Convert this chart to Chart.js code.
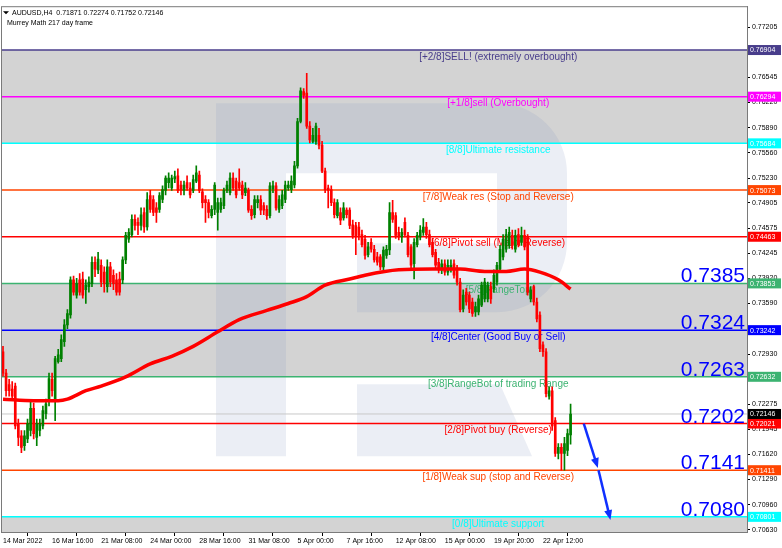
<!DOCTYPE html>
<html>
<head>
<meta charset="utf-8">
<script src="https://cdn.jsdelivr.net/npm/chart.js@4.4.0/dist/chart.umd.min.js"></script>
<style>
  html, body { margin: 0; padding: 0; background: #fff; }
</style>
</head>
<body>
<canvas id="grafico" width="782" height="548"></canvas>
<script>
// AUDUSD H4 - uma vela por barra (indice 0 = 14 Mar 2022 00:00)
const opens = [
  0.7296,0.7268,0.7253,0.7247,0.7251,0.7202,0.7186,0.7173,0.7182,0.7193,
  0.7222,0.7184,0.7193,0.7199,0.7215,0.7232,0.7260,0.7234,0.7283,0.7287,
  0.7309,0.7331,0.7344,0.7390,0.7370,0.7390,0.7391,0.7377,0.7381,0.7385,
  0.7413,0.7403,0.7409,0.7400,0.7381,0.7407,0.7396,0.7390,0.7391,0.7390,
  0.7416,0.7443,0.7449,0.7469,0.7465,0.7461,0.7478,0.7459,0.7500,0.7495,
  0.7484,0.7482,0.7495,0.7507,0.7517,0.7510,0.7522,0.7526,0.7514,0.7507,
  0.7517,0.7510,0.7507,0.7519,0.7527,0.7505,0.7495,0.7491,0.7474,0.7482,
  0.7478,0.7482,0.7487,0.7507,0.7504,0.7523,0.7519,0.7517,0.7514,0.7504,
  0.7507,0.7482,0.7475,0.7491,0.7495,0.7487,0.7482,0.7474,0.7509,0.7513,
  0.7482,0.7487,0.7495,0.7510,0.7508,0.7514,0.7539,0.7597,0.7636,0.7634,
  0.7591,0.7571,0.7571,0.7579,0.7566,0.7532,0.7510,0.7508,0.7491,0.7474,
  0.7478,0.7471,0.7481,0.7481,0.7462,0.7461,0.7459,0.7449,0.7443,0.7423,
  0.7439,0.7430,0.7420,0.7420,0.7407,0.7422,0.7429,0.7478,0.7474,0.7452,
  0.7446,0.7465,0.7448,0.7433,0.7411,0.7436,0.7446,0.7452,0.7459,0.7449,
  0.7439,0.7426,0.7413,0.7403,0.7411,0.7400,0.7405,0.7411,0.7404,0.7387,
  0.7352,0.7374,0.7370,0.7361,0.7348,0.7348,0.7357,0.7365,0.7365,0.7381,
  0.7378,0.7387,0.7404,0.7420,0.7430,0.7435,0.7448,0.7430,0.7449,0.7439,
  0.7448,0.7446,0.7365,0.7381,0.7361,0.7344,0.7305,0.7296,0.7238,0.7245,
  0.7206,0.7163,0.7171,0.7163,0.7167,0.71871
];
const highs = [
  0.7303,0.7273,0.7260,0.7257,0.7255,0.7208,0.7193,0.7193,0.7208,0.7232,
  0.7229,0.7208,0.7208,0.7225,0.7234,0.7268,0.7268,0.7290,0.7299,0.7318,
  0.7338,0.7351,0.7394,0.7395,0.7392,0.7398,0.7400,0.7390,0.7394,0.7420,
  0.7420,0.7426,0.7416,0.7407,0.7416,0.7413,0.7403,0.7398,0.7400,0.7420,
  0.7452,0.7457,0.7475,0.7475,0.7471,0.7484,0.7484,0.7504,0.7507,0.7500,
  0.7491,0.7504,0.7513,0.7526,0.7530,0.7527,0.7532,0.7535,0.7519,0.7519,
  0.7526,0.7517,0.7527,0.7539,0.7532,0.7509,0.7500,0.7495,0.7487,0.7517,
  0.7497,0.7497,0.7510,0.7519,0.7530,0.7530,0.7523,0.7535,0.7519,0.7517,
  0.7510,0.7487,0.7500,0.7500,0.7500,0.7491,0.7487,0.7517,0.7519,0.7517,
  0.7500,0.7507,0.7519,0.7519,0.7526,0.7545,0.7601,0.7641,0.7640,0.7660,
  0.7597,0.7588,0.7595,0.7588,0.7571,0.7536,0.7514,0.7513,0.7496,0.7495,
  0.7484,0.7491,0.7484,0.7484,0.7468,0.7465,0.7465,0.7455,0.7448,0.7439,
  0.7444,0.7435,0.7426,0.7423,0.7433,0.7435,0.7491,0.7494,0.7478,0.7459,
  0.7457,0.7471,0.7452,0.7436,0.7444,0.7452,0.7461,0.7470,0.7465,0.7455,
  0.7444,0.7430,0.7418,0.7416,0.7416,0.7416,0.7416,0.7416,0.7409,0.7392,
  0.7377,0.7379,0.7374,0.7366,0.7361,0.7370,0.7387,0.7392,0.7387,0.7387,
  0.7403,0.7413,0.7435,0.7449,0.7456,0.7459,0.7455,0.7455,0.7457,0.7459,
  0.7455,0.7449,0.7381,0.7383,0.7366,0.7348,0.7309,0.7300,0.7250,0.7250,
  0.7210,0.7176,0.7176,0.7184,0.7195,0.72274
];
const lows = [
  0.7264,0.7238,0.7238,0.7232,0.7195,0.7173,0.7164,0.7167,0.7177,0.7186,
  0.7182,0.7173,0.7186,0.7195,0.7208,0.7225,0.7238,0.7206,0.7281,0.7283,
  0.7303,0.7326,0.7340,0.7370,0.7366,0.7370,0.7366,0.7359,0.7374,0.7381,
  0.7394,0.7398,0.7381,0.7374,0.7374,0.7381,0.7377,0.7370,0.7370,0.7385,
  0.7411,0.7439,0.7446,0.7455,0.7449,0.7455,0.7452,0.7455,0.7478,0.7474,
  0.7465,0.7478,0.7491,0.7501,0.7510,0.7507,0.7517,0.7504,0.7501,0.7501,
  0.7507,0.7497,0.7504,0.7517,0.7504,0.7484,0.7465,0.7471,0.7471,0.7475,
  0.7455,0.7478,0.7483,0.7504,0.7501,0.7507,0.7497,0.7507,0.7496,0.7500,
  0.7478,0.7469,0.7471,0.7484,0.7475,0.7475,0.7469,0.7471,0.7504,0.7481,
  0.7478,0.7483,0.7491,0.7507,0.7504,0.7510,0.7536,0.7595,0.7627,0.7588,
  0.7569,0.7569,0.7567,0.7561,0.7530,0.7504,0.7484,0.7487,0.7471,0.7471,
  0.7462,0.7468,0.7471,0.7457,0.7444,0.7423,0.7442,0.7433,0.7417,0.7420,
  0.7426,0.7413,0.7409,0.7403,0.7403,0.7418,0.7423,0.7465,0.7444,0.7442,
  0.7439,0.7446,0.7420,0.7404,0.7391,0.7433,0.7442,0.7448,0.7444,0.7433,
  0.7420,0.7405,0.7399,0.7398,0.7396,0.7396,0.7400,0.7392,0.7383,0.7348,
  0.7348,0.7357,0.7347,0.7342,0.7342,0.7344,0.7355,0.7361,0.7361,0.7359,
  0.7374,0.7383,0.7400,0.7416,0.7426,0.7431,0.7430,0.7426,0.7433,0.7435,
  0.7429,0.7370,0.7361,0.7357,0.7335,0.7296,0.7290,0.7237,0.7234,0.7193,
  0.7159,0.7156,0.7141,0.7141,0.7160,0.71752
];
const closes = [
  0.7268,0.7245,0.7245,0.7238,0.7199,0.7184,0.7171,0.7186,0.7202,0.7222,
  0.7189,0.7202,0.7202,0.7219,0.7228,0.7261,0.7245,0.7287,0.7292,0.7312,
  0.7331,0.7346,0.7390,0.7374,0.7385,0.7374,0.7370,0.7383,0.7387,0.7413,
  0.7404,0.7417,0.7387,0.7385,0.7407,0.7387,0.7385,0.7374,0.7374,0.7416,
  0.7448,0.7452,0.7469,0.7461,0.7461,0.7475,0.7459,0.7495,0.7482,0.7478,
  0.7478,0.7500,0.7508,0.7523,0.7523,0.7523,0.7525,0.7507,0.7507,0.7514,
  0.7510,0.7501,0.7521,0.7530,0.7507,0.7491,0.7491,0.7478,0.7482,0.7514,
  0.7491,0.7491,0.7507,0.7514,0.7523,0.7510,0.7501,0.7510,0.7501,0.7510,
  0.7481,0.7474,0.7495,0.7495,0.7481,0.7481,0.7474,0.7513,0.7513,0.7484,
  0.7495,0.7501,0.7514,0.7514,0.7519,0.7539,0.7597,0.7637,0.7631,0.7591,
  0.7573,0.7579,0.7591,0.7566,0.7532,0.7508,0.7507,0.7491,0.7475,0.7491,
  0.7468,0.7484,0.7475,0.7461,0.7448,0.7446,0.7448,0.7436,0.7422,0.7433,
  0.7430,0.7416,0.7413,0.7407,0.7429,0.7430,0.7478,0.7469,0.7448,0.7446,
  0.7452,0.7449,0.7423,0.7409,0.7439,0.7448,0.7455,0.7459,0.7449,0.7436,
  0.7423,0.7409,0.7403,0.7411,0.7400,0.7409,0.7409,0.7396,0.7387,0.7351,
  0.7370,0.7361,0.7352,0.7346,0.7355,0.7365,0.7383,0.7387,0.7383,0.7365,
  0.7396,0.7409,0.7430,0.7443,0.7449,0.7452,0.7435,0.7448,0.7436,0.7448,
  0.7433,0.7374,0.7377,0.7361,0.7339,0.7300,0.7296,0.7241,0.7245,0.7199,
  0.7163,0.7171,0.7163,0.7176,0.7189,0.72146
];

// media movel (vermelha grossa), lida em algumas barras
const maBars = [0, 10, 18, 21, 27, 32, 40, 48, 55, 62, 70, 77, 86, 93, 99, 105, 113, 118, 129, 140, 149, 157, 164, 170, 175, 181, 185];
const maValues = [0.7234, 0.7232, 0.7232, 0.7234, 0.7245, 0.7251, 0.7263, 0.7280, 0.7290, 0.7303, 0.7322, 0.7338, 0.7350, 0.7359, 0.7368, 0.7383, 0.7391, 0.7396, 0.7403, 0.7404, 0.7404, 0.7401, 0.7401, 0.7404, 0.7400, 0.7390, 0.7378];

// niveis de Murrey Math
const levelPrices = [0.76904, 0.76294, 0.75684, 0.75073, 0.74463, 0.73853, 0.73242, 0.72632, 0.72021, 0.71411, 0.70801];
const levelNames = ['[+2/8]SELL! (extremely overbought)', '[+1/8]sell (Overbought)', '[8/8]Ultimate resistance',
  '[7/8]Weak res (Stop and Reverse)', '[6/8]Pivot sell (Major Reverse)', '[5/8]RangeTop', '[4/8]Center (Good Buy or Sell)',
  '[3/8]RangeBot of trading Range', '[2/8]Pivot buy (Reverse)', '[1/8]Weak sup (stop and Reverse)', '[0/8]Ultimate support'];
const levelColors = ['#483d8b', '#ff00ff', '#00ffff', '#ff4500', '#ff0000', '#3cb371', '#0000ff', '#3cb371', '#ff0000', '#ff4500', '#00ffff'];
const targetLabels = ['0.7385', '0.7324', '0.7263', '0.7202', '0.7141', '0.7080'];
const currentPrice = 0.72146;

// setas de projecao
const arrowBars = [[189.3, 193.5], [194.1, 197.7]];
const arrowPrices = [[0.7202, 0.7149], [0.7141, 0.7081]];

// eixos
const xTickBars = [0, 16, 32, 48, 64, 80, 96, 112, 128, 144, 160, 176];
const xTickLabels = ['14 Mar 2022', '16 Mar 16:00', '21 Mar 08:00', '24 Mar 00:00', '28 Mar 16:00', '31 Mar 08:00',
  '5 Apr 00:00', '7 Apr 16:00', '12 Apr 08:00', '15 Apr 00:00', '19 Apr 20:00', '22 Apr 12:00'];
const yTicks = [0.77205, 0.76875, 0.76545, 0.76220, 0.75890, 0.75560, 0.75230, 0.74905, 0.74575, 0.74245, 0.73920,
  0.73590, 0.73260, 0.72930, 0.72605, 0.72275, 0.71945, 0.71620, 0.71290, 0.70960, 0.70630];

const fonte = 'Liberation Sans, Arial, sans-serif';
const corVela = closes.map((c, i) => c >= opens[i] ? '#008000' : '#ff0000');

const fundoMurrey = {
    id: 'fundoMurrey',
    beforeDatasetsDraw(chart) {
        const { ctx, chartArea: a, scales: { y } } = chart;
        const w = a.right - a.left;
        ctx.save();
        ctx.beginPath();
        ctx.rect(a.left, a.top, w, a.bottom - a.top);
        ctx.clip();

        // faixas cinzas
        ctx.fillStyle = '#d3d3d3';
        const faixa = (p1, p2) => {
            const y1 = y.getPixelForValue(p1), y2 = y.getPixelForValue(p2);
            ctx.fillRect(a.left, y1, w, y2 - y1);
        };
        faixa(levelPrices[0], levelPrices[2]);
        faixa(levelPrices[5], levelPrices[7]);
        faixa(levelPrices[10], y.min);

        // marca d'agua "R"
        const ox = a.left - 1, oy = a.top - 2;
        ctx.fillStyle = 'rgba(130,150,190,0.16)';
        ctx.beginPath();
        ctx.moveTo(ox + 216, oy + 99);
        ctx.lineTo(ox + 497, oy + 99);
        ctx.arcTo(ox + 567, oy + 99, ox + 567, oy + 169, 70);
        ctx.lineTo(ox + 567, oy + 238);
        ctx.arcTo(ox + 567, oy + 308, ox + 497, oy + 308, 70);
        ctx.lineTo(ox + 357, oy + 308);
        ctx.lineTo(ox + 357, oy + 239);
        ctx.lineTo(ox + 497, oy + 239);
        ctx.lineTo(ox + 497, oy + 169);
        ctx.lineTo(ox + 286, oy + 169);
        ctx.lineTo(ox + 286, oy + 452);
        ctx.lineTo(ox + 216, oy + 452);
        ctx.closePath();
        ctx.fill();
        ctx.beginPath();
        ctx.moveTo(ox + 357, oy + 380);
        ctx.lineTo(ox + 500, oy + 380);
        ctx.lineTo(ox + 532, oy + 452);
        ctx.lineTo(ox + 357, oy + 452);
        ctx.closePath();
        ctx.fill();

        // preco atual
        const yc = y.getPixelForValue(currentPrice);
        ctx.strokeStyle = '#c8c8c8';
        ctx.lineWidth = 1;
        ctx.beginPath();
        ctx.moveTo(a.left, yc);
        ctx.lineTo(a.right, yc);
        ctx.stroke();

        // linhas e textos dos niveis
        ctx.font = '10px ' + fonte;
        ctx.textAlign = 'center';
        ctx.textBaseline = 'middle';
        levelPrices.forEach((p, i) => {
            const yy = y.getPixelForValue(p);
            ctx.strokeStyle = levelColors[i];
            ctx.lineWidth = 1.5;
            ctx.beginPath();
            ctx.moveTo(a.left, yy);
            ctx.lineTo(a.right, yy);
            ctx.stroke();
            ctx.fillStyle = levelColors[i];
            ctx.fillText(levelNames[i], a.left + w * 0.6665, yy + 7);
        });

        // alvos em azul
        ctx.font = '21px ' + fonte;
        ctx.textAlign = 'right';
        ctx.textBaseline = 'alphabetic';
        ctx.fillStyle = '#0000ff';
        targetLabels.forEach((t, i) => {
            const yy = y.getPixelForValue(levelPrices[i + 5]);
            ctx.fillText(t, a.right - 2, yy - 1);
        });
        ctx.restore();
    },
    afterDatasetsDraw(chart) {
        const { ctx } = chart;
        chart.data.datasets.forEach((ds, i) => {
            if (!ds.label.startsWith('seta')) return;
            const pts = chart.getDatasetMeta(i).data;
            const p0 = pts[pts.length - 2], p1 = pts[pts.length - 1];
            const ang = Math.atan2(p1.y - p0.y, p1.x - p0.x);
            ctx.save();
            ctx.translate(p1.x, p1.y);
            ctx.rotate(ang);
            ctx.fillStyle = ds.borderColor;
            ctx.beginPath();
            ctx.moveTo(4, 0);
            ctx.lineTo(-6, -4);
            ctx.lineTo(-6, 4);
            ctx.closePath();
            ctx.fill();
            ctx.restore();
        });
    },
    afterDraw(chart) {
        const { ctx, chartArea: a, scales: { y } } = chart;
        ctx.save();
        // etiquetas coloridas no eixo de precos
        ctx.font = '7px ' + fonte;
        ctx.textAlign = 'left';
        ctx.textBaseline = 'middle';
        const etiqueta = (p, cor) => {
            const yy = y.getPixelForValue(p);
            ctx.fillStyle = cor;
            ctx.fillRect(a.right + 1, yy - 5, 33, 10);
            ctx.fillStyle = '#ffffff';
            ctx.fillText(p.toFixed(5), a.right + 3, yy + 0.5);
        };
        levelPrices.forEach((p, i) => etiqueta(p, levelColors[i]));
        etiqueta(currentPrice, '#000000');

        // moldura
        ctx.strokeStyle = '#7a7a7a';
        ctx.lineWidth = 1;
        ctx.strokeRect(a.left + 0.5, a.top + 0.5, a.right - a.left, a.bottom - a.top);

        // cabecalho
        ctx.fillStyle = '#000';
        ctx.beginPath();
        ctx.moveTo(a.left + 2, a.top + 5);
        ctx.lineTo(a.left + 8, a.top + 5);
        ctx.lineTo(a.left + 5, a.top + 8);
        ctx.closePath();
        ctx.fill();
        ctx.fillText('AUDUSD,H4  0.71871 0.72274 0.71752 0.72146', a.left + 11, a.top + 6.5);
        ctx.fillText('Murrey Math 217 day frame', a.left + 6, a.top + 16.5);
        ctx.restore();
    }
};

new Chart(document.getElementById('grafico'), {
    type: 'bar',
    data: {
        datasets: [
            {
                type: 'line', label: 'MA',
                data: maBars.map((b, i) => ({ x: b, y: maValues[i] })),
                borderColor: '#ff0000', borderWidth: 3.5, pointRadius: 0,
                cubicInterpolationMode: 'monotone', order: 0
            },
            {
                type: 'line', label: 'seta1',
                data: arrowBars[0].map((b, i) => ({ x: b, y: arrowPrices[0][i] })),
                borderColor: '#1030ff', borderWidth: 2.5, pointRadius: 0, order: 0
            },
            {
                type: 'line', label: 'seta2',
                data: arrowBars[1].map((b, i) => ({ x: b, y: arrowPrices[1][i] })),
                borderColor: '#1030ff', borderWidth: 2.5, pointRadius: 0, order: 0
            },
            {
                label: 'corpo',
                data: opens.map((o, i) => ({ x: i, y: [o, closes[i]] })),
                backgroundColor: corVela, barThickness: 2, minBarLength: 1,
                grouped: false, order: 1
            },
            {
                label: 'pavio',
                data: opens.map((o, i) => ({ x: i, y: [lows[i], highs[i]] })),
                backgroundColor: corVela, barThickness: 1,
                grouped: false, order: 2
            }
        ]
    },
    options: {
        responsive: false,
        animation: false,
        events: [],
        layout: { padding: { left: 1, top: 2, right: 0, bottom: 0 } },
        plugins: { legend: { display: false }, tooltip: { enabled: false } },
        scales: {
            x: {
                type: 'linear', min: -0.65, max: 242.5, offset: false,
                afterFit: (s) => { s.height = 16; },
                afterBuildTicks: (s) => { s.ticks = xTickBars.map(v => ({ value: v })); },
                ticks: {
                    align: 'start', maxRotation: 0, autoSkip: false, padding: 1, color: '#000',
                    font: { family: fonte, size: 7 },
                    callback: (v) => xTickLabels[xTickBars.indexOf(v)]
                },
                grid: { drawOnChartArea: false, tickLength: 4, tickColor: '#000' },
                border: { color: '#7a7a7a' }
            },
            y: {
                position: 'right', min: 0.70603, max: 0.77477,
                afterFit: (s) => { s.width = 35; },
                afterBuildTicks: (s) => { s.ticks = yTicks.map(v => ({ value: v })); },
                ticks: {
                    autoSkip: false, padding: 2, color: '#000',
                    font: { family: fonte, size: 7 },
                    callback: (v) => v.toFixed(5)
                },
                grid: { drawOnChartArea: false, tickLength: 3, tickColor: '#000' },
                border: { color: '#7a7a7a' }
            }
        }
    },
    plugins: [fundoMurrey]
});
</script>
</body>
</html>
